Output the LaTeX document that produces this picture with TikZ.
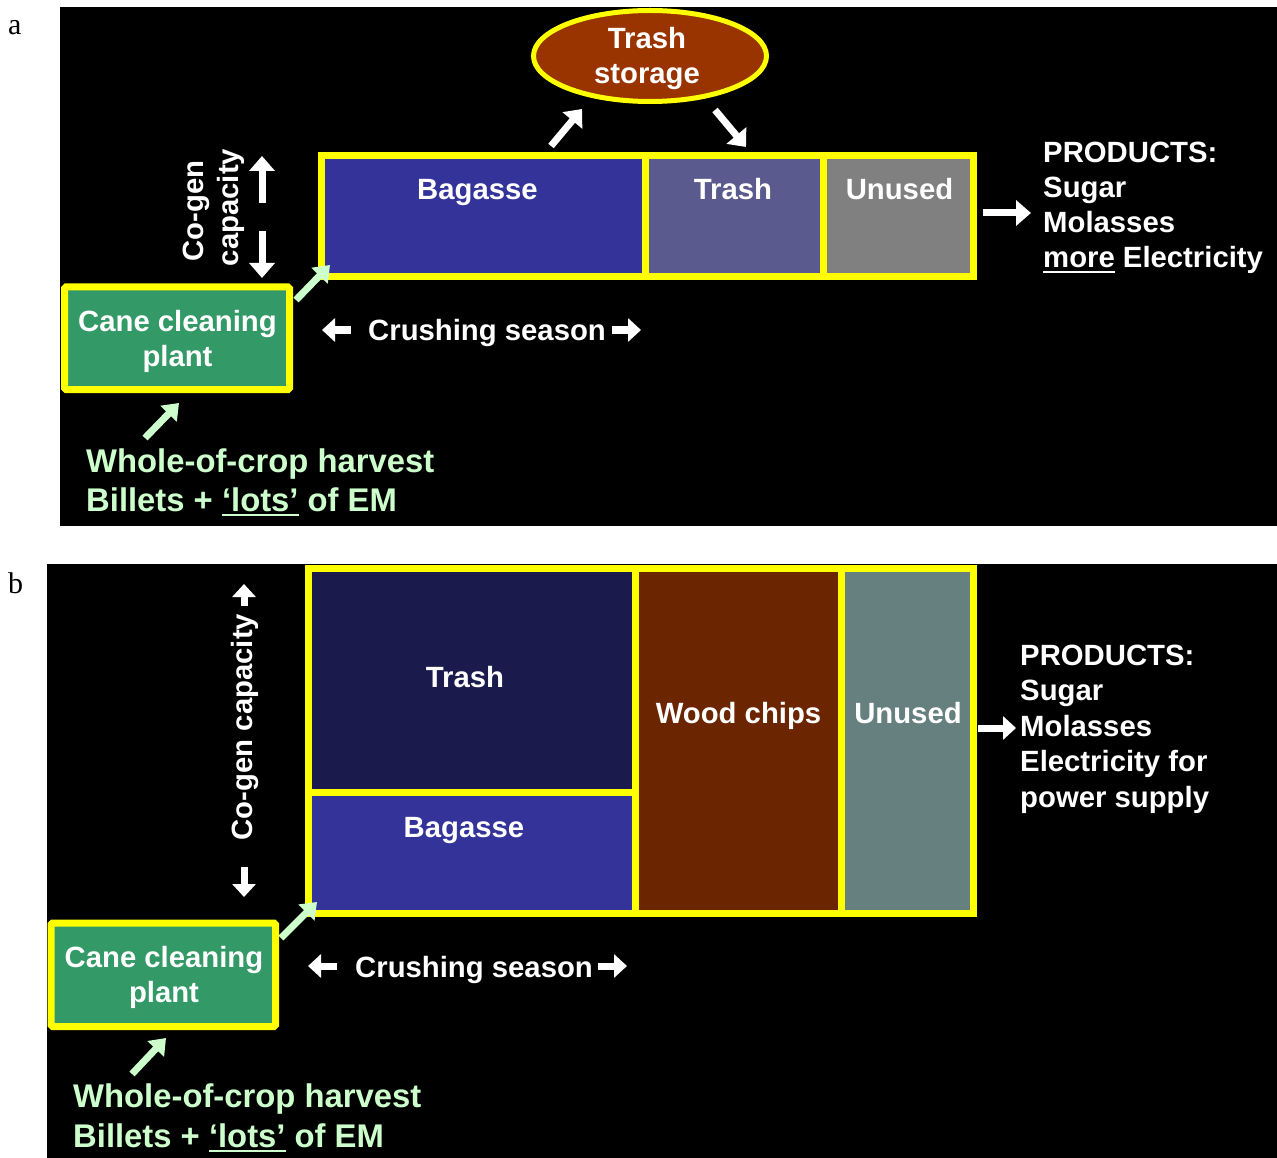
\documentclass[tikz,border=0pt]{standalone}
\usepackage{fontspec}
\setmainfont{Liberation Sans}
\newfontfamily\labelfont{Liberation Serif}
\usetikzlibrary{arrows.meta,shapes.geometric}
\definecolor{ylw}{HTML}{FFFF00}
\definecolor{bagc}{HTML}{333399}
\definecolor{trashA}{HTML}{5A5A8E}
\definecolor{unusedA}{HTML}{808080}
\definecolor{trashB}{HTML}{1A1A4D}
\definecolor{woodc}{HTML}{6B2500}
\definecolor{unusedB}{HTML}{668080}
\definecolor{stor}{HTML}{993300}
\definecolor{cane}{HTML}{339966}
\definecolor{lgreen}{HTML}{CCFFCC}
\newcommand\myul[1]{\leavevmode\setbox0\hbox{#1}\rlap{\rule[-5pt]{\wd0}{2pt}}\box0\relax}
\newcommand\vcen[2]{\vtop{\baselineskip=#1\lineskiplimit=-100pt\lineskip=0pt\halign{\hfil##\hfil\cr#2\crcr}}}
\newcommand\vlft[2]{\vtop{\baselineskip=#1\lineskiplimit=-100pt\lineskip=0pt\halign{##\hfil\cr#2\crcr}}}
\tikzset{
  txt/.style={text=white, font=\fontsize{29.3}{35}\selectfont\bfseries, inner sep=0pt},
  grn/.style={text=lgreen, font=\fontsize{32.8}{39}\selectfont\bfseries, inner sep=0pt},
  cell/.style={draw=ylw, line width=7pt, rectangle, anchor=north west, inner sep=0pt, outer sep=0pt},
  canebox/.style={draw=ylw, line width=7pt, rectangle, fill=cane, inner sep=0pt, outer sep=0pt, rounded corners=1.5pt},
  blk/.style={draw=white, line width=7pt, -{Triangle[length=15pt,width=25pt]}},
  sblk/.style={draw=white, line width=7pt, -{Triangle[length=13pt,width=23pt]}},
  gblk/.style={draw=lgreen, line width=7pt, -{Triangle[length=15pt,width=22pt]}},
  plabel/.style={anchor=base west, inner sep=0pt, font=\labelfont\fontsize{30}{30}\selectfont},
}
\begin{document}
\begin{tikzpicture}[x=1pt,y=-1pt]
\useasboundingbox (0,0) rectangle (1277,1158);
\fill[white] (0,0) rectangle (1277,1158);
\fill[black] (60,7) rectangle (1277,526);
\fill[black] (47,564) rectangle (1277,1158);

% ---------------- panel a ----------------
\node[plabel] (la) at (8,35) {a};

\node[ellipse, draw=ylw, line width=5pt, fill=stor, minimum width=233pt, minimum height=91pt, inner sep=0pt, outer sep=0pt] (tstor) at (650,56) {};
\node[txt, anchor=base] (tstorT) at (647,49) {\vcen{35pt}{Trash\cr storage}};

\node[cell, fill=bagc, minimum width=323.5pt, minimum height=121.5pt] (bagA) at (321.5,155.5) {};
\node[cell, fill=trashA, minimum width=178.5pt, minimum height=121.5pt] (trashAc) at (645,155.5) {};
\node[cell, fill=unusedA, minimum width=150pt, minimum height=121.5pt] (unusedAc) at (823.5,155.5) {};
\node[txt, anchor=base] (bagAT) at (477.5,200) {Bagasse};
\node[txt, anchor=base] (trashAT) at (733,200) {Trash};
\node[txt, anchor=base] (unusedAT) at (899.5,200) {Unused};

\coordinate (a1s) at (551,146); \coordinate (a1e) at (582,109);
\coordinate (a2s) at (715,110); \coordinate (a2e) at (746,147);
\draw[blk] (a1s) -- (a1e);
\draw[blk] (a2s) -- (a2e);

\coordinate (paS) at (983,213); \coordinate (paE) at (1031,213);
\draw[blk] (paS) -- (paE);
\node[txt, anchor=base west] (prodA) at (1043,163) {\vlft{35pt}{PRODUCTS:\cr Sugar\cr Molasses\cr \myul{more} Electricity}};

\node[txt, rotate=90, anchor=base] (cogA1) at (203,211) {Co-gen};
\node[txt, rotate=90, anchor=base] (cogA2) at (238,207.5) {capacity};
\coordinate (cuS) at (262,203); \coordinate (cuE) at (262,156);
\coordinate (cdS) at (262,231); \coordinate (cdE) at (262,278);
\draw[blk] (cuS) -- (cuE);
\draw[blk] (cdS) -- (cdE);

\node[canebox, minimum width=225pt, minimum height=102.5pt] (caneA) at (177,338.25) {};
\node[txt, anchor=base] (caneAT) at (177.5,331) {\vcen{35pt}{Cane cleaning\cr plant}};

\coordinate (g1s) at (296,300); \coordinate (g1e) at (330,265);
\coordinate (g2s) at (145,438); \coordinate (g2e) at (179,403);
\draw[gblk] (g1s) -- (g1e);
\draw[gblk] (g2s) -- (g2e);
\node[grn, anchor=base west] (harvA) at (86,472) {\vlft{39pt}{Whole-of-crop harvest\cr Billets + \myul{‘lots’} of EM}};

\node[txt, anchor=base west] (crushA) at (368,340) {Crushing season};
\coordinate (clS) at (351,330); \coordinate (clE) at (322,330);
\coordinate (crS) at (612,330); \coordinate (crE) at (641,330);
\draw[sblk] (clS) -- (clE);
\draw[sblk] (crS) -- (crE);

% ---------------- panel b ----------------
\node[plabel] (lb) at (8,593) {b};

\node[cell, fill=trashB, minimum width=327.5pt, minimum height=224pt] (trashBc) at (308,568) {};
\node[cell, fill=bagc, minimum width=327.5pt, minimum height=121.5pt] (bagB) at (308,792) {};
\node[cell, fill=woodc, minimum width=206pt, minimum height=345.5pt] (woodB) at (635.5,568) {};
\node[cell, fill=unusedB, minimum width=131.5pt, minimum height=345.5pt] (unusedBc) at (841.5,568) {};
\node[txt, anchor=base] (trashBT) at (465,687.5) {Trash};
\node[txt, anchor=base] (bagBT) at (464,837.5) {Bagasse};
\node[txt, anchor=base] (woodBT) at (738.5,723.5) {Wood chips};
\node[txt, anchor=base] (unusedBT) at (908,723.5) {Unused};

\coordinate (pbS) at (978,728); \coordinate (pbE) at (1016,728);
\draw[sblk] (pbS) -- (pbE);
\node[txt, anchor=base west] (prodB) at (1020,665) {\vlft{35.5pt}{PRODUCTS:\cr Sugar\cr Molasses\cr Electricity for\cr power supply}};

\node[txt, rotate=90, anchor=base] (cogB) at (252,727) {Co-gen capacity};
\coordinate (buS) at (244,606); \coordinate (buE) at (244,584);
\coordinate (bdS) at (244,867); \coordinate (bdE) at (244,897);
\draw[sblk] (buS) -- (buE);
\draw[sblk] (bdS) -- (bdE);

\node[canebox, minimum width=224.5pt, minimum height=103.5pt] (caneB) at (163.25,974.75) {};
\node[txt, anchor=base] (caneBT) at (164,967) {\vcen{35pt}{Cane cleaning\cr plant}};

\coordinate (g3s) at (281,938); \coordinate (g3e) at (317,902);
\coordinate (g4s) at (132,1074); \coordinate (g4e) at (166,1038);
\draw[gblk] (g3s) -- (g3e);
\draw[gblk] (g4s) -- (g4e);
\node[grn, anchor=base west] (harvB) at (73,1107) {\vlft{40pt}{Whole-of-crop harvest\cr Billets + \myul{‘lots’} of EM}};

\node[txt, anchor=base west] (crushB) at (355,977) {Crushing season};
\coordinate (dlS) at (337,966); \coordinate (dlE) at (308,966);
\coordinate (drS) at (598,966); \coordinate (drE) at (627,966);
\draw[sblk] (dlS) -- (dlE);
\draw[sblk] (drS) -- (drE);
\end{tikzpicture}
\end{document}
